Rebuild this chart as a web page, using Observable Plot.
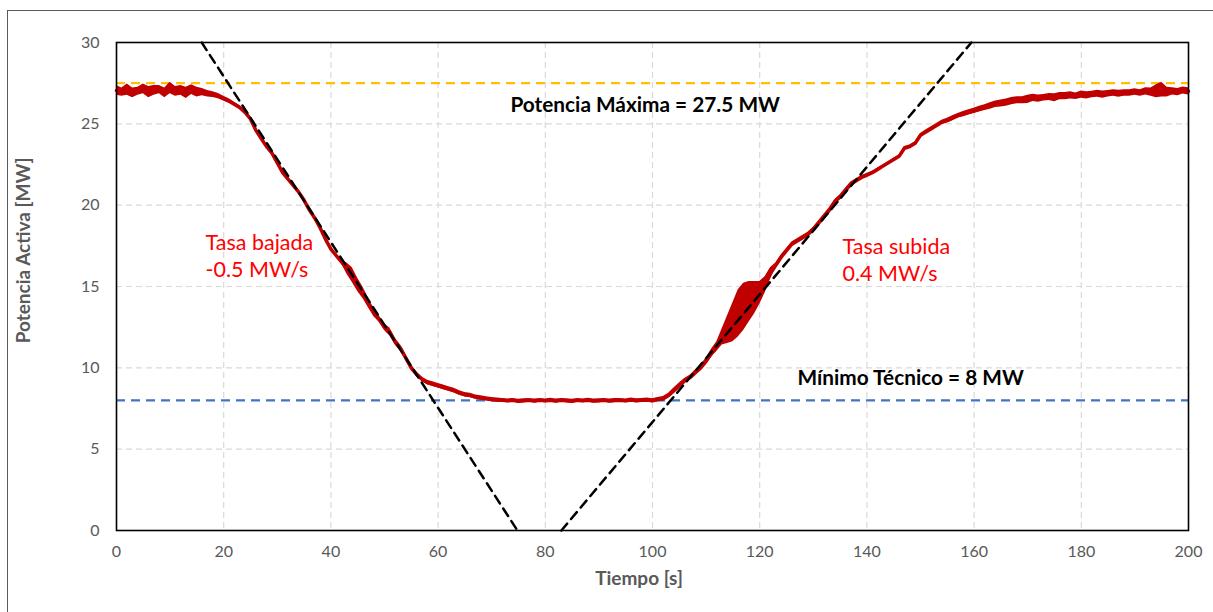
<!DOCTYPE html>
<html><head><meta charset="utf-8">
<script src="https://cdn.jsdelivr.net/npm/d3@7"></script>
<script src="https://cdn.jsdelivr.net/npm/@observablehq/plot@0.6"></script>
<style>
html,body{margin:0;padding:0;background:#fff;overflow:hidden;}
#wrap{position:relative;width:1213px;height:612px;}
#border{position:absolute;left:7px;top:10px;width:1400px;height:800px;border-left:1px solid #595959;border-top:1px solid #595959;}
#chart{position:absolute;left:0;top:0;}
</style></head><body>
<div id="wrap"><div id="border"></div><div id="chart"></div></div>
<script>
// Active power [MW] sampled once per second, t = 0..200 s
const power = [
27.05,26.95,27.1,26.9,27.0,27.15,26.95,27.05,27.1,26.9,
27.2,27.0,27.05,26.9,27.1,26.95,26.95,26.85,26.8,26.7,
26.55,26.4,26.2,26.0,25.7,25.3,24.6,24.1,23.6,23.2,
22.6,22.0,21.6,21.2,20.8,20.3,19.7,19.2,18.6,17.9,
17.3,16.9,16.5,16.1,15.7,15.1,14.6,14.0,13.4,13.0,
12.5,12.2,11.6,11.2,10.6,10.0,9.6,9.3,9.1,9.0,
8.9,8.8,8.7,8.6,8.45,8.35,8.3,8.2,8.15,8.1,
8.05,8.02,8.0,7.97,8.0,7.95,7.98,8.0,7.96,8.0,
7.97,8.01,7.96,8.0,7.98,7.95,8.0,7.97,8.01,7.96,
7.98,8.0,7.96,7.99,8.0,7.97,8.02,7.98,8.0,8.02,
7.98,8.05,8.1,8.3,8.6,8.9,9.2,9.4,9.7,10.0,
10.4,10.9,11.3,11.9,12.35,12.8,13.35,13.75,14.05,14.3,
14.6,15.1,15.8,16.3,16.8,17.2,17.6,17.8,18.0,18.2,
18.5,18.9,19.3,19.7,20.2,20.5,20.9,21.3,21.5,21.7,
21.85,22.0,22.2,22.4,22.6,22.8,23.0,23.5,23.6,23.8,
24.3,24.5,24.7,24.9,25.1,25.2,25.35,25.5,25.6,25.7,
25.8,25.9,26.0,26.1,26.2,26.25,26.3,26.4,26.45,26.45,
26.5,26.6,26.55,26.6,26.65,26.6,26.7,26.7,26.75,26.7,
26.8,26.75,26.8,26.85,26.8,26.85,26.9,26.85,26.9,26.9,
26.95,26.9,27.0,26.95,27.0,27.1,26.95,27.0,26.95,27.05,
27.0
];
// half-width of the measurement noise band [MW], same sampling
const noise = [
0.3,0.25,0.35,0.3,0.25,0.3,0.35,0.3,0.25,0.3,
0.35,0.3,0.3,0.35,0.3,0.3,0.22,0.2,0.18,0.16,
0.14,0.14,0.12,0.12,0.12,0.1,0.1,0.1,0.1,0.1,
0.1,0.1,0.1,0.1,0.1,0.1,0.1,0.1,0.1,0.1,
0.1,0.1,0.12,0.35,0.45,0.4,0.35,0.3,0.25,0.2,
0.2,0.25,0.2,0.2,0.18,0.16,0.15,0.14,0.14,0.14,
0.14,0.14,0.14,0.14,0.14,0.14,0.13,0.13,0.13,0.13,
0.13,0.12,0.12,0.12,0.12,0.12,0.12,0.12,0.12,0.12,
0.12,0.12,0.12,0.12,0.12,0.12,0.12,0.12,0.12,0.12,
0.12,0.12,0.12,0.12,0.12,0.12,0.12,0.12,0.12,0.12,
0.12,0.12,0.14,0.14,0.16,0.16,0.14,0.14,0.16,0.16,
0.2,0.25,0.3,0.5,0.85,1.2,1.45,1.45,1.25,1.0,
0.7,0.5,0.35,0.14,0.14,0.14,0.14,0.14,0.14,0.14,
0.14,0.14,0.14,0.14,0.14,0.14,0.14,0.12,0.12,0.12,
0.1,0.08,0.08,0.08,0.08,0.08,0.08,0.1,0.1,0.1,
0.1,0.12,0.12,0.12,0.12,0.14,0.14,0.14,0.16,0.16,
0.16,0.18,0.18,0.2,0.2,0.22,0.22,0.22,0.22,0.22,
0.25,0.22,0.22,0.2,0.22,0.25,0.22,0.22,0.22,0.2,
0.22,0.22,0.2,0.22,0.22,0.2,0.2,0.22,0.2,0.2,
0.2,0.2,0.22,0.25,0.4,0.45,0.3,0.22,0.22,0.22,
0.22
];
const time = d3.range(0, power.length);

// reference levels
const maxPower = 27.5;
const minTech = 8;
// ramp-rate guide lines (endpoints)
const rampDown = [{t: 15.9, p: 30}, {t: 74.8, p: 0}];
const rampUp = [{t: 83.0, p: 0}, {t: 159.5, p: 30}];

const xTicks = [0,20,40,60,80,100,120,140,160,180,200];
const yTicks = [0,5,10,15,20,25,30];

const redLabels = [
  {t: 16.6, p: 17.64, text: "Tasa bajada"},
  {t: 16.6, p: 15.98, text: "-0.5 MW/s"},
  {t: 135.45, p: 17.45, text: "Tasa subida"},
  {t: 135.45, p: 15.79, text: "0.4 MW/s"}
];
const blackLabels = [
  {t: 73.5, p: 26.11, text: "Potencia Máxima = 27.5 MW"},
  {t: 127.05, p: 9.33, text: "Mínimo Técnico = 8 MW"}
];

const rows = time.map((t, i) => ({t, p: power[i], n: noise[i]}));
const FONT = "Lato, 'Open Sans', sans-serif";

const chart = Plot.plot({
  width: 1213, height: 612,
  marginLeft: 116, marginRight: 25, marginTop: 42, marginBottom: 82,
  style: {fontFamily: FONT, fontSize: "16px", color: "#595959", background: "transparent", overflow: "visible"},
  x: {domain: [0, 200], label: null},
  y: {domain: [0, 30], label: null},
  marks: [
    Plot.gridX(xTicks, {stroke: "#d9d9d9", strokeOpacity: 1, strokeDasharray: "6,4", strokeWidth: 1.2}),
    Plot.gridY(yTicks, {stroke: "#d9d9d9", strokeOpacity: 1, strokeDasharray: "6,4", strokeWidth: 1.2}),
    Plot.axisX(xTicks, {tickSize: 0, tickPadding: 15, fill: "#595959", fontSize: 16, label: null}),
    Plot.axisY(yTicks, {tickSize: 0, tickPadding: 17, fill: "#595959", fontSize: 16, label: null}),
    Plot.ruleY([maxPower], {stroke: "#ffc000", strokeWidth: 2.2, strokeDasharray: "9,6"}),
    Plot.ruleY([minTech], {stroke: "#4472c4", strokeWidth: 2.2, strokeDasharray: "9,6"}),
    Plot.areaY(rows, {x: "t", y1: d => d.p - d.n, y2: d => d.p + d.n, fill: "#c00000", curve: "linear"}),
    Plot.line(rows, {x: "t", y: "p", stroke: "#c00000", strokeWidth: 3.5}),
    Plot.line(rampDown, {x: "t", y: "p", stroke: "#000", strokeWidth: 2.5, strokeDasharray: "9,6"}),
    Plot.line(rampUp, {x: "t", y: "p", stroke: "#000", strokeWidth: 2.5, strokeDasharray: "9,6"}),
    Plot.text(redLabels, {x: "t", y: "p", text: "text", textAnchor: "start", fill: "#ff0000", fontSize: 21.5}),
    Plot.text(blackLabels, {x: "t", y: "p", text: "text", textAnchor: "start", fill: "#000", fontSize: 20.8, fontWeight: "bold"}),
    Plot.text(["Tiempo [s]"], {frameAnchor: "bottom", dx: -13.5, dy: 54, text: d => d, fill: "#595959", fontSize: 19, fontWeight: "bold"}),
    Plot.text(["Potencia Activa [MW]"], {frameAnchor: "left", textAnchor: "middle", dx: -93, dy: -36, rotate: -90, text: d => d, fill: "#595959", fontSize: 19, fontWeight: "bold"}),
    Plot.frame({stroke: "#000", strokeWidth: 1.6})
  ]
});
document.getElementById("chart").appendChild(chart);
</script>
</body></html>
